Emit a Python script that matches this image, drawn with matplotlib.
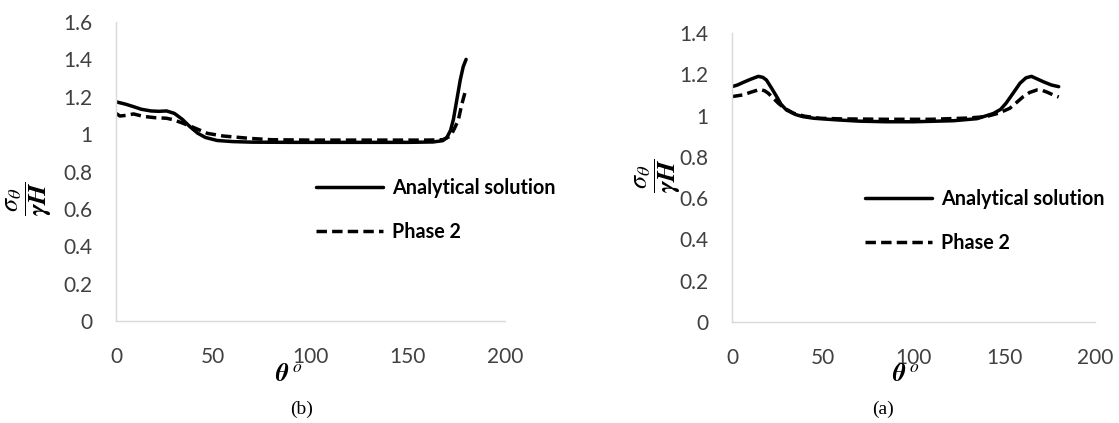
import matplotlib
matplotlib.use("Agg")
import matplotlib.pyplot as plt

plt.rcParams['font.family'] = ['Lato', 'DejaVu Sans']
plt.rcParams['mathtext.fontset'] = 'stix'

# panel (b)
theta_b_an = [0, 5, 9, 13, 18, 22, 26, 30, 34, 38, 42, 46, 52, 60, 70, 90, 110, 130,
              150, 163, 168, 170, 172, 173.5, 175, 177, 178.5, 180]
sigma_b_an = [1.173, 1.16, 1.147, 1.133, 1.124, 1.122, 1.124, 1.111, 1.08, 1.04, 1.005,
              0.982, 0.966, 0.96, 0.957, 0.956, 0.956, 0.956, 0.956, 0.958, 0.965, 0.98,
              1.02, 1.08, 1.17, 1.29, 1.36, 1.40]
theta_b_ph = [0, 2, 5, 9, 14, 20, 26, 29, 34, 40, 47, 55, 69, 80, 100, 130, 160, 168,
              172, 174, 176, 177.7, 180]
sigma_b_ph = [1.111, 1.097, 1.10, 1.108, 1.095, 1.088, 1.085, 1.078, 1.06, 1.035, 1.004,
              0.99, 0.977, 0.97, 0.968, 0.968, 0.968, 0.97, 0.99, 1.03, 1.075, 1.156, 1.245]

# panel (a)
theta_a_an = [0, 3, 6, 10, 14.5, 17, 19, 22, 24.6, 27, 30, 35, 39, 45, 58, 70, 85, 100,
              122, 135, 144, 148, 151, 155, 158.7, 162, 165, 168, 171.5, 176, 180]
sigma_a_an = [1.14, 1.148, 1.16, 1.175, 1.19, 1.185, 1.172, 1.13, 1.092, 1.055, 1.027,
              1.005, 0.995, 0.987, 0.979, 0.973, 0.970, 0.970, 0.975, 0.985, 1.01, 1.03,
              1.06, 1.11, 1.157, 1.183, 1.19, 1.178, 1.164, 1.148, 1.14]
theta_a_ph = [0, 3, 6, 10, 15.4, 18, 20, 23, 25.5, 29, 34, 40, 48.5, 60, 85, 110, 130,
              140, 147, 153, 157, 160.5, 164, 168, 171, 174, 177, 180]
sigma_a_ph = [1.092, 1.096, 1.10, 1.112, 1.127, 1.12, 1.108, 1.082, 1.06, 1.035, 1.011,
              0.997, 0.987, 0.984, 0.982, 0.982, 0.988, 0.995, 1.012, 1.035, 1.065, 1.092,
              1.112, 1.124, 1.122, 1.112, 1.10, 1.09]

x_ticks = [0, 50, 100, 150, 200]
labels = ['Analytical solution', 'Phase 2']

W, H = 1119, 423
fig = plt.figure(figsize=(W / 100, H / 100), dpi=100)


def make_panel(rect, th_an, s_an, th_ph, s_ph, ymax, yticks, leg_xy, ylab_xy, xlab_xy, cap_xy, cap):
    ax = fig.add_axes([rect[0] / W, 1 - rect[3] / H, (rect[2] - rect[0]) / W, (rect[3] - rect[1]) / H])
    ax.plot(th_an, s_an, color='black', lw=2.5, solid_capstyle='round', label=labels[0])
    ax.plot(th_ph, s_ph, color='black', lw=2.5, dashes=(3, 1.5), label=labels[1])
    ax.set_xlim(0, 200)
    ax.set_ylim(0, ymax)
    ax.set_xticks(x_ticks)
    ax.set_yticks(yticks)
    ax.set_yticklabels([f'{v:g}' for v in yticks])
    for s in ['top', 'right']:
        ax.spines[s].set_visible(False)
    for s in ['left', 'bottom']:
        ax.spines[s].set_color('#d9d9d9')
        ax.spines[s].set_linewidth(1.0)
    ax.tick_params(length=0, labelsize=15, colors='#404040')
    ax.tick_params(axis='x', pad=19)
    ax.tick_params(axis='y', pad=17)
    ax.legend(loc='upper left', bbox_to_anchor=leg_xy, frameon=False,
              handlelength=3.4, handletextpad=0.45, labelspacing=1.2,
              prop={'weight': 'bold', 'size': 14.2}, borderaxespad=0)
    fig.text(ylab_xy[0] / W, 1 - ylab_xy[1] / H, r'$\dfrac{\boldsymbol{\sigma_\theta}}{\boldsymbol{\gamma H}}$',
             rotation=90, ha='center', va='center', fontsize=19)
    fig.text(xlab_xy[0] / W, 1 - xlab_xy[1] / H, r'$\boldsymbol{\theta}^{\ \mathit{o}}$',
             ha='center', va='center', fontsize=18)
    fig.text(cap_xy[0] / W, 1 - cap_xy[1] / H, cap, ha='center', va='center',
             fontsize=14, family='Liberation Serif')
    return ax


make_panel((116, 22, 505, 321), theta_b_an, sigma_b_an, theta_b_ph, sigma_b_ph,
           1.6, [0, 0.2, 0.4, 0.6, 0.8, 1, 1.2, 1.4, 1.6],
           (0.494, 0.505), (29, 199), (289, 373), (302, 409), '(b)')
make_panel((732, 33, 1095, 322), theta_a_an, sigma_a_an, theta_a_ph, sigma_a_ph,
           1.4, [0, 0.2, 0.4, 0.6, 0.8, 1, 1.2, 1.4],
           (0.345, 0.488), (658, 176), (906, 373), (883, 409), '(a)')

fig.savefig('out.png', dpi=100, facecolor='white')
